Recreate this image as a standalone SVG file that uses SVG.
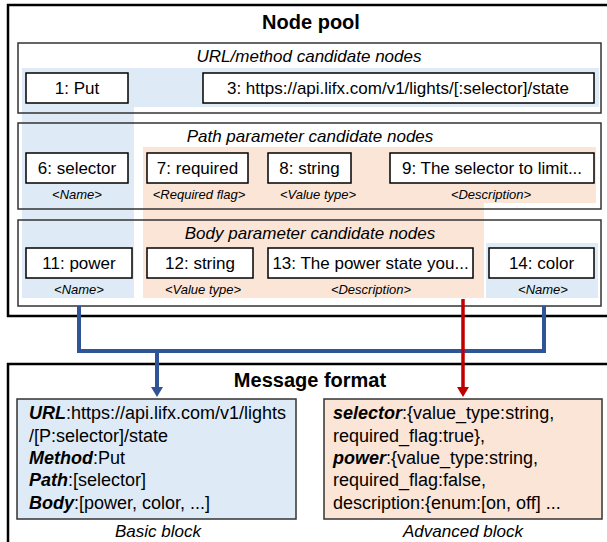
<svg xmlns="http://www.w3.org/2000/svg" width="607" height="542" viewBox="0 0 607 542">
<style>
text{font-family:"Liberation Sans",Arial,sans-serif;fill:#000}
.title{font-size:20px;font-weight:bold;text-anchor:middle}
.sub{font-size:17px;font-style:italic;text-anchor:middle}
.nt{font-size:17px;text-anchor:middle}
.lb{font-size:13px;font-style:italic;text-anchor:middle}
.frame{fill:#fff;stroke:#000;stroke-width:2.5}
.box{fill:none;stroke:#333;stroke-width:1.5}
.node{fill:#fff;stroke:#000;stroke-width:1.5}
.hb{fill:#DEEBF7}
.ho{fill:#FBE5D6}
.mt{font-size:18px}
.cap{font-size:17px;font-style:italic;text-anchor:middle}
</style>
<defs>
<marker id="ab" viewBox="0 0 10 12" refX="0" refY="6" markerWidth="10" markerHeight="12" markerUnits="userSpaceOnUse" orient="auto"><path d="M0,0 L10,6 L0,12 Z" fill="#2F5597"/></marker>
<marker id="ar" viewBox="0 0 10 12" refX="0" refY="6" markerWidth="10" markerHeight="12" markerUnits="userSpaceOnUse" orient="auto"><path d="M0,0 L10,6 L0,12 Z" fill="#C00000"/></marker>
</defs>
<rect width="607" height="542" fill="#fff"/>
<g id="node-pool">
<rect class="frame" x="8" y="5" width="612" height="311"/>
<text class="title" x="311" y="29">Node pool</text>
<rect x="18" y="43" width="583" height="70" fill="#fff"/>
<rect x="18" y="123" width="583" height="86" fill="#fff"/>
<rect x="18" y="220" width="583" height="86" fill="#fff"/>
<path class="hb" d="M22,68 H599 V107 H134 V298 H22 Z"/>
<path class="ho" d="M143,147 H596 V203 H484 V298 H143 Z"/>
<rect class="hb" x="486" y="243" width="112" height="55"/>
</g>
<g id="url-group">
<rect class="box" x="18" y="43" width="583" height="70"/>
<text class="sub" x="309" y="62">URL/method candidate nodes</text>
</g>
<g id="n1"><rect class="node" x="26" y="73" width="102" height="30"/><text class="nt" x="77" y="94">1: Put</text></g>
<g id="n3"><rect class="node" x="203" y="73" width="391" height="30"/><text class="nt" x="398" y="94">3: https://api.lifx.com/v1/lights/[:selector]/state</text></g>
<g id="path-group">
<rect class="box" x="18" y="123" width="583" height="86"/>
<text class="sub" x="310" y="142">Path parameter candidate nodes</text>
</g>
<g id="n6"><rect class="node" x="26" y="153" width="102" height="30"/><text class="nt" x="77" y="174">6: selector</text><text class="lb" x="77" y="199">&lt;Name&gt;</text></g>
<g id="n7"><rect class="node" x="147" y="153" width="101" height="30"/><text class="nt" x="197.5" y="174">7: required</text><text class="lb" x="199" y="199">&lt;Required flag&gt;</text></g>
<g id="n8"><rect class="node" x="268" y="153" width="83" height="30"/><text class="nt" x="309.5" y="174">8: string</text><text class="lb" x="318" y="199">&lt;Value type&gt;</text></g>
<g id="n9"><rect class="node" x="390" y="153" width="204" height="30"/><text class="nt" x="492" y="174">9: The selector to limit...</text><text class="lb" x="491" y="199">&lt;Description&gt;</text></g>
<g id="body-group">
<rect class="box" x="18" y="220" width="583" height="86"/>
<text class="sub" x="310" y="239">Body parameter candidate nodes</text>
</g>
<g id="n11"><rect class="node" x="26" y="248" width="106" height="30"/><text class="nt" x="79" y="269">11: power</text><text class="lb" x="79" y="294">&lt;Name&gt;</text></g>
<g id="n12"><rect class="node" x="147" y="248" width="106" height="30"/><text class="nt" x="200" y="269">12: string</text><text class="lb" x="203" y="294">&lt;Value type&gt;</text></g>
<g id="n13"><rect class="node" x="268" y="248" width="205" height="30"/><text class="nt" x="370.5" y="269">13: The power state you...</text><text class="lb" x="371" y="294">&lt;Description&gt;</text></g>
<g id="n14"><rect class="node" x="489" y="248" width="105" height="30"/><text class="nt" x="541.5" y="269">14: color</text><text class="lb" x="543" y="294">&lt;Name&gt;</text></g>
<g id="message-format">
<rect class="frame" x="8" y="364" width="612" height="190"/>
<text class="title" x="310" y="387">Message format</text>
</g>
<g id="basic-block">
<rect x="17" y="399" width="279" height="120" fill="#DEEBF7" stroke="#333" stroke-width="1.5"/>
<text class="mt" x="29" y="419"><tspan font-weight="bold" font-style="italic">URL</tspan>:https://api.lifx.com/v1/lights</text>
<text class="mt" x="29" y="441.5">/[P:selector]/state</text>
<text class="mt" x="29" y="464"><tspan font-weight="bold" font-style="italic">Method</tspan>:Put</text>
<text class="mt" x="29" y="486"><tspan font-weight="bold" font-style="italic">Path</tspan>:[selector]</text>
<text class="mt" x="29" y="508.5"><tspan font-weight="bold" font-style="italic">Body</tspan>:[power, color, ...]</text>
<text class="cap" x="158" y="537">Basic block</text>
</g>
<g id="advanced-block">
<rect x="324" y="399" width="278" height="120" fill="#FBE5D6" stroke="#333" stroke-width="1.5"/>
<text class="mt" x="333" y="419"><tspan font-weight="bold" font-style="italic">selector</tspan>:{value_type:string,</text>
<text class="mt" x="333" y="441.5">required_flag:true},</text>
<text class="mt" x="333" y="464"><tspan font-weight="bold" font-style="italic">power</tspan>:{value_type:string,</text>
<text class="mt" x="333" y="486">required_flag:false,</text>
<text class="mt" x="333" y="508.5">description:{enum:[on, off] ...</text>
<text class="cap" x="463" y="537">Advanced block</text>
</g>
<g id="connectors">
<path d="M79,306 V351 H544 V306" fill="none" stroke="#2F5597" stroke-width="4"/>
<path d="M157,351 V387" fill="none" stroke="#2F5597" stroke-width="4" marker-end="url(#ab)"/>
<path d="M463,299 V387" fill="none" stroke="#C00000" stroke-width="3.5" marker-end="url(#ar)"/>
</g>
</svg>
